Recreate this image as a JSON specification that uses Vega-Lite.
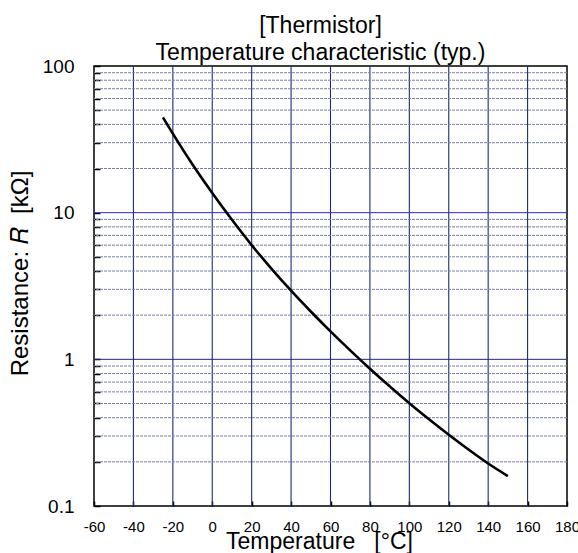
{
  "$schema": "https://vega.github.io/schema/vega-lite/v6.json",
  "autosize": {"type": "none"},
  "padding": {"left": 94, "top": 66, "right": 11, "bottom": 47},
  "width": 473,
  "height": 440,
  "background": "white",
  "config": {
    "font": "Liberation Sans",
    "view": {"stroke": "black", "strokeWidth": 1.5},
    "axis": {
      "labelOverlap": false, "labelFlush": false, "labelBound": false,
      "grid": false, "domain": false,
      "ticks": true, "tickColor": "black", "tickWidth": 1.5,
      "labelColor": "black", "labelFont": "Liberation Sans",
      "titleColor": "black", "titleFont": "Liberation Sans", "titleFontWeight": "normal"
    },
    "axisX": {"labelOverlap": false, "labelFontSize": 15, "labelPadding": 18, "labelDx": -3, "tickSize": -5},
    "axisY": {"labelOverlap": false, "labelFontSize": 19, "labelPadding": 26, "tickSize": -6}
  },
  "title": {
    "text": ["[Thermistor]", "Temperature characteristic (typ.)"],
    "fontSize": 23,
    "fontWeight": "normal",
    "font": "Liberation Sans",
    "color": "black",
    "lineHeight": 27,
    "anchor": "middle",
    "dx": -10,
    "offset": -8
  },
  "datasets": {
    "curve": [
      {"t": -25, "r": 44.6}, {"t": -20, "r": 34.6}, {"t": -10, "r": 21.3}, {"t": 0, "r": 13.6},
      {"t": 10, "r": 8.94}, {"t": 20, "r": 6.01}, {"t": 30, "r": 4.16}, {"t": 40, "r": 2.94},
      {"t": 50, "r": 2.12}, {"t": 60, "r": 1.552}, {"t": 70, "r": 1.151}, {"t": 80, "r": 0.863},
      {"t": 90, "r": 0.655}, {"t": 100, "r": 0.502}, {"t": 110, "r": 0.39}, {"t": 120, "r": 0.306},
      {"t": 130, "r": 0.243}, {"t": 140, "r": 0.195}, {"t": 150, "r": 0.16}
    ],
    "vgrid": [
      {"t": -40}, {"t": -20}, {"t": 0}, {"t": 20}, {"t": 40}, {"t": 60},
      {"t": 80}, {"t": 100}, {"t": 120}, {"t": 140}, {"t": 160}
    ],
    "minor": [
      {"r": 0.2}, {"r": 0.3}, {"r": 0.4}, {"r": 0.5}, {"r": 0.6}, {"r": 0.7}, {"r": 0.8}, {"r": 0.9},
      {"r": 2}, {"r": 3}, {"r": 4}, {"r": 5}, {"r": 6}, {"r": 7}, {"r": 8}, {"r": 9},
      {"r": 20}, {"r": 30}, {"r": 40}, {"r": 50}, {"r": 60}, {"r": 70}, {"r": 80}, {"r": 90}
    ],
    "one": [{"r": 1}],
    "ten": [{"r": 10}]
  },
  "layer": [
    {
      "data": {"name": "vgrid"},
      "mark": {"type": "rule", "color": "#1e2b74", "strokeWidth": 1.1},
      "encoding": {
        "x": {
          "field": "t", "type": "quantitative",
          "scale": {"domain": [-60, 180], "nice": false, "zero": false},
          "axis": {
            "values": [-60, -40, -20, 0, 20, 40, 60, 80, 100, 120, 140, 160, 180],
            "labelExpr": "datum.value + ''",
            "labelOverlap": false,
            "title": "Temperature\u00a0\u00a0\u00a0[°C]", "titleFontSize": 23,
            "titleX": 225, "titleY": 42, "titleBaseline": "alphabetic", "titleAlign": "center"
          }
        }
      }
    },
    {
      "data": {"name": "minor"},
      "mark": {"type": "rule", "color": "#7580a8", "strokeWidth": 1, "strokeDash": [3, 1]},
      "encoding": {
        "y": {
          "field": "r", "type": "quantitative",
          "scale": {"type": "log", "domain": [0.1, 100], "nice": false},
          "axis": {
            "values": [0.1, 0.2, 0.3, 0.4, 0.5, 0.6, 0.7, 0.8, 0.9, 1, 2, 3, 4, 5, 6, 7, 8, 9, 10, 20, 30, 40, 50, 60, 70, 80, 90, 100],
            "labelExpr": "indexof([0.1, 1, 10, 100], datum.value) >= 0 ? datum.value + '' : ''",
            "labelOverlap": false,
            "title": "Resistance: 𝑅\u00a0\u00a0[kΩ]", "titleFontSize": 24,
            "titleX": -74, "titleY": 207, "titleBaseline": "middle", "titleAlign": "center", "titleAngle": -90
          }
        }
      }
    },
    {
      "data": {"name": "one"},
      "mark": {"type": "rule", "color": "#1c2a78", "strokeWidth": 1},
      "encoding": {
        "y": {
          "field": "r", "type": "quantitative",
          "scale": {"type": "log", "domain": [0.1, 100], "nice": false},
          "axis": {
            "values": [0.1, 0.2, 0.3, 0.4, 0.5, 0.6, 0.7, 0.8, 0.9, 1, 2, 3, 4, 5, 6, 7, 8, 9, 10, 20, 30, 40, 50, 60, 70, 80, 90, 100],
            "labelExpr": "indexof([0.1, 1, 10, 100], datum.value) >= 0 ? datum.value + '' : ''",
            "labelOverlap": false,
            "title": "Resistance: 𝑅\u00a0\u00a0[kΩ]", "titleFontSize": 24,
            "titleX": -74, "titleY": 207, "titleBaseline": "middle", "titleAlign": "center", "titleAngle": -90
          }
        }
      }
    },
    {
      "data": {"name": "ten"},
      "mark": {"type": "rule", "color": "#2a2ae8", "strokeWidth": 1},
      "encoding": {
        "y": {
          "field": "r", "type": "quantitative",
          "scale": {"type": "log", "domain": [0.1, 100], "nice": false},
          "axis": {
            "values": [0.1, 0.2, 0.3, 0.4, 0.5, 0.6, 0.7, 0.8, 0.9, 1, 2, 3, 4, 5, 6, 7, 8, 9, 10, 20, 30, 40, 50, 60, 70, 80, 90, 100],
            "labelExpr": "indexof([0.1, 1, 10, 100], datum.value) >= 0 ? datum.value + '' : ''",
            "labelOverlap": false,
            "title": "Resistance: 𝑅\u00a0\u00a0[kΩ]", "titleFontSize": 24,
            "titleX": -74, "titleY": 207, "titleBaseline": "middle", "titleAlign": "center", "titleAngle": -90
          }
        }
      }
    },
    {
      "data": {"name": "curve"},
      "mark": {"type": "line", "color": "black", "strokeWidth": 2.6, "interpolate": "monotone"},
      "encoding": {
        "x": {
          "field": "t", "type": "quantitative",
          "scale": {"domain": [-60, 180], "nice": false, "zero": false},
          "axis": {
            "values": [-60, -40, -20, 0, 20, 40, 60, 80, 100, 120, 140, 160, 180],
            "labelExpr": "datum.value + ''",
            "labelOverlap": false,
            "title": "Temperature\u00a0\u00a0\u00a0[°C]", "titleFontSize": 23,
            "titleX": 225, "titleY": 42, "titleBaseline": "alphabetic", "titleAlign": "center"
          }
        },
        "y": {
          "field": "r", "type": "quantitative",
          "scale": {"type": "log", "domain": [0.1, 100], "nice": false},
          "axis": {
            "values": [0.1, 0.2, 0.3, 0.4, 0.5, 0.6, 0.7, 0.8, 0.9, 1, 2, 3, 4, 5, 6, 7, 8, 9, 10, 20, 30, 40, 50, 60, 70, 80, 90, 100],
            "labelExpr": "indexof([0.1, 1, 10, 100], datum.value) >= 0 ? datum.value + '' : ''",
            "labelOverlap": false,
            "title": "Resistance: 𝑅\u00a0\u00a0[kΩ]", "titleFontSize": 24,
            "titleX": -74, "titleY": 207, "titleBaseline": "middle", "titleAlign": "center", "titleAngle": -90
          }
        }
      }
    }
  ]
}
